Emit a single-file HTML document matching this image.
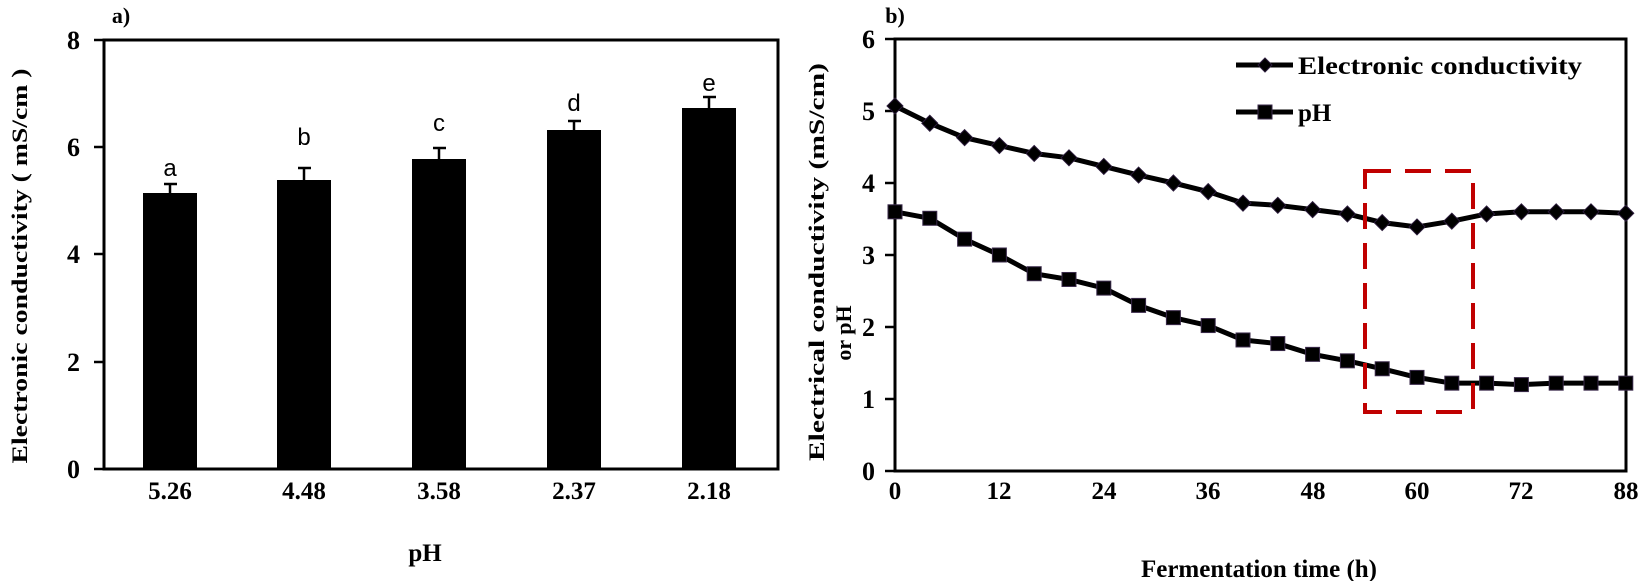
<!DOCTYPE html>
<html><head><meta charset="utf-8"><style>html,body{margin:0;padding:0;background:#fff}svg{display:block}</style></head>
<body>
<svg width="1642" height="581" viewBox="0 0 1642 581" xmlns="http://www.w3.org/2000/svg" font-family="Liberation Serif, serif" font-weight="bold">
<!-- Left chart -->
<text x="121" y="23" font-size="22" text-anchor="middle">a)</text>
<rect x="104" y="40" width="674" height="429" fill="none" stroke="#000" stroke-width="3"/>
<g stroke="#000" stroke-width="2.5">
<line x1="94" y1="40" x2="104" y2="40"/><line x1="94" y1="147" x2="104" y2="147"/><line x1="94" y1="254" x2="104" y2="254"/><line x1="94" y1="362" x2="104" y2="362"/><line x1="94" y1="469" x2="104" y2="469"/>
</g>
<g font-size="26" text-anchor="end">
<text x="80" y="49">8</text><text x="80" y="156">6</text><text x="80" y="263">4</text><text x="80" y="371">2</text><text x="80" y="478">0</text>
</g>
<g fill="#000">
<rect x="143" y="193" width="54" height="276"/>
<rect x="277" y="180" width="54" height="289"/>
<rect x="412" y="159" width="54" height="310"/>
<rect x="547" y="130" width="54" height="339"/>
<rect x="682" y="108" width="54" height="361"/>
</g>
<g stroke="#000" stroke-width="2.5">
<line x1="170" y1="193" x2="170" y2="184"/><line x1="164" y1="184" x2="177" y2="184"/>
<line x1="304" y1="180" x2="304" y2="168"/><line x1="298" y1="168" x2="311" y2="168"/>
<line x1="439" y1="159" x2="439" y2="148"/><line x1="433" y1="148" x2="446" y2="148"/>
<line x1="574" y1="130" x2="574" y2="121"/><line x1="568" y1="121" x2="581" y2="121"/>
<line x1="709" y1="108" x2="709" y2="97"/><line x1="703" y1="97" x2="716" y2="97"/>
</g>
<g font-family="Liberation Sans, sans-serif" font-weight="normal" font-size="24" text-anchor="middle">
<text x="170" y="176">a</text><text x="304" y="145">b</text><text x="439" y="131">c</text><text x="574" y="111">d</text><text x="709" y="91">e</text>
</g>
<g font-size="25" text-anchor="middle">
<text x="170" y="499">5.26</text><text x="304" y="499">4.48</text><text x="439" y="499">3.58</text><text x="574" y="499">2.37</text><text x="709" y="499">2.18</text>
</g>
<text x="425" y="561" font-size="25" text-anchor="middle">pH</text>
<text transform="translate(27,266) rotate(-90)" font-size="22" text-anchor="middle" textLength="395" lengthAdjust="spacingAndGlyphs">Electronic conductivity ( mS/cm )</text>

<!-- Right chart -->
<text x="895" y="23" font-size="22" text-anchor="middle">b)</text>
<rect x="895" y="39" width="731" height="432" fill="none" stroke="#000" stroke-width="3"/>
<g stroke="#000" stroke-width="2.5">
<line x1="885" y1="39" x2="895" y2="39"/><line x1="885" y1="111" x2="895" y2="111"/><line x1="885" y1="183" x2="895" y2="183"/><line x1="885" y1="255" x2="895" y2="255"/><line x1="885" y1="327" x2="895" y2="327"/><line x1="885" y1="399" x2="895" y2="399"/><line x1="885" y1="471" x2="895" y2="471"/>
</g>
<g font-size="26" text-anchor="end">
<text x="875" y="48">6</text><text x="875" y="120">5</text><text x="875" y="192">4</text><text x="875" y="264">3</text><text x="875" y="336">2</text><text x="875" y="408">1</text><text x="875" y="480">0</text>
</g>
<g font-size="25" text-anchor="middle">
<text x="895" y="499">0</text><text x="999" y="499">12</text><text x="1104" y="499">24</text><text x="1208" y="499">36</text><text x="1313" y="499">48</text><text x="1417" y="499">60</text><text x="1521" y="499">72</text><text x="1626" y="499">88</text>
</g>
<text x="1259" y="577" font-size="25" text-anchor="middle">Fermentation time (h)</text>
<text transform="translate(824,262) rotate(-90)" font-size="22" text-anchor="middle" textLength="398" lengthAdjust="spacingAndGlyphs">Electrical conductivity (mS/cm)</text>
<text transform="translate(851,333) rotate(-90)" font-size="22" text-anchor="middle">or pH</text>

<g id="series"></g>
<rect x="1365" y="171" width="108" height="241" fill="none" stroke="#c00000" stroke-width="4" stroke-dasharray="26,14"/>

<!-- legend -->
<line x1="1236" y1="65" x2="1293" y2="65" stroke="#000" stroke-width="5"/>
<polygon points="1265,58 1272,65 1265,72 1258,65" fill="#000" stroke="#2a1a3a" stroke-width="1"/>
<text x="1298" y="74" font-size="25" textLength="284" lengthAdjust="spacingAndGlyphs">Electronic conductivity</text>
<line x1="1236" y1="112" x2="1293" y2="112" stroke="#000" stroke-width="5"/>
<rect x="1258" y="105" width="14" height="14" fill="#000" stroke="#3a2a4a" stroke-width="1"/>
<text x="1298" y="121" font-size="25">pH</text>
</svg>
<script>
(function(){
var ec=[5.07,4.83,4.63,4.52,4.41,4.35,4.23,4.11,4.0,3.88,3.72,3.69,3.63,3.57,3.45,3.39,3.47,3.57,3.6,3.6,3.6,3.58];
var ph=[3.6,3.51,3.22,3.0,2.74,2.66,2.54,2.3,2.13,2.02,1.82,1.77,1.62,1.53,1.42,1.3,1.22,1.22,1.2,1.22,1.22,1.22];
var ns="http://www.w3.org/2000/svg",g=document.getElementById("series");
function X(i){return 895+i*34.8;} function Y(v){return 471-v*72;}
function line(d){var p=document.createElementNS(ns,"polyline");p.setAttribute("points",d.map(function(v,i){return X(i)+","+Y(v);}).join(" "));p.setAttribute("fill","none");p.setAttribute("stroke","#000");p.setAttribute("stroke-width","5");p.setAttribute("stroke-linejoin","round");g.appendChild(p);}
line(ec);line(ph);
ec.forEach(function(v,i){var p=document.createElementNS(ns,"polygon");var x=X(i),y=Y(v);p.setAttribute("points",x+","+(y-8)+" "+(x+8)+","+y+" "+x+","+(y+8)+" "+(x-8)+","+y);p.setAttribute("fill","#000");p.setAttribute("stroke","#2a1a3a");g.appendChild(p);});
ph.forEach(function(v,i){var r=document.createElementNS(ns,"rect");r.setAttribute("x",X(i)-7);r.setAttribute("y",Y(v)-7);r.setAttribute("width",14);r.setAttribute("height",14);r.setAttribute("fill","#000");r.setAttribute("stroke","#3a2a4a");g.appendChild(r);});
})();
</script>
</body></html>
